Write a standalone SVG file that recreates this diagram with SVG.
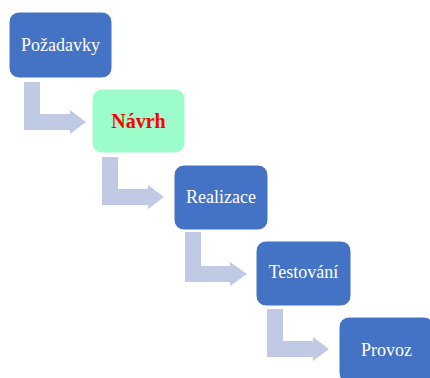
<svg xmlns="http://www.w3.org/2000/svg" width="430" height="378" viewBox="0 0 430 378">
  <style>
    .box { fill: #4472C4; stroke: #ffffff; stroke-width: 1; }
    .box.active { fill: #9CFDCB; }
    .lbl { font-family: "Liberation Serif", "Times New Roman", serif; font-size: 18px; fill: #ffffff; text-anchor: middle; }
    .lbl.active { fill: #FF0000; font-weight: bold; font-size: 20px; }
    .arrow { fill: #C0CAE4; }
  </style>
  <rect width="430" height="378" fill="#ffffff"/>

  <!-- elbow arrows between steps -->
  <g id="connectors">
    <path class="arrow" d="M24,82 H40 V114 H70 V110 L86,122 L70,134 V130 H24 Z"/>
    <path class="arrow" d="M102,157 H118 V189 H148 V185 L164,197 L148,209 V205 H102 Z"/>
    <path class="arrow" d="M185,232 H201 V266 H230 V262 L247,274 L230,286 V282 H185 Z"/>
    <path class="arrow" d="M267,309 H283 V341 H313 V337 L329,349 L313,361 V357 H267 Z"/>
  </g>

  <g id="pozadavky">
    <rect class="box" x="9" y="12" width="103" height="66" rx="10"/>
    <text class="lbl" x="60.5" y="51">Požadavky</text>
  </g>
  <g id="navrh">
    <rect class="box active" x="92" y="89" width="93" height="64" rx="10"/>
    <text class="lbl active" x="138.5" y="128">Návrh</text>
  </g>
  <g id="realizace">
    <rect class="box" x="174" y="165" width="94" height="65" rx="10"/>
    <text class="lbl" x="221" y="203">Realizace</text>
  </g>
  <g id="testovani">
    <rect class="box" x="256" y="241" width="95" height="65" rx="10"/>
    <text class="lbl" x="303.5" y="278">Testování</text>
  </g>
  <g id="provoz">
    <rect class="box" x="339" y="317" width="95" height="66" rx="10"/>
    <text class="lbl" x="386.5" y="356">Provoz</text>
  </g>
</svg>
